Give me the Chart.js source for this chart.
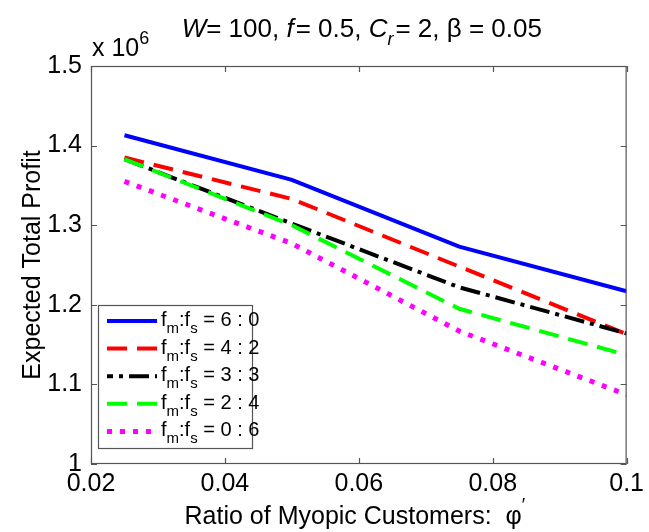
<!DOCTYPE html>
<html>
<head>
<meta charset="utf-8">
<script src="https://cdn.jsdelivr.net/npm/chart.js@4"></script>
<style>
  html, body { margin: 0; padding: 0; background: #fff; }
  #wrap { width: 649px; height: 532px; }
</style>
</head>
<body>
<div id="wrap"><canvas id="profitChart"></canvas></div>
<script>
// ratio of myopic customers (phi')
const phi = [0.025, 0.05, 0.075, 0.1];

// expected total profit, in units of 10^6
const profit60 = [1.413, 1.357, 1.273, 1.217];
const profit42 = [1.385, 1.333, 1.248, 1.163];
const profit33 = [1.383, 1.302, 1.222, 1.164];
const profit24 = [1.383, 1.300, 1.195, 1.137];
const profit06 = [1.355, 1.277, 1.167, 1.087];

// f_m : f_s split for each curve
const splitM = ['6', '4', '3', '2', '0'];
const splitS = ['0', '2', '3', '4', '6'];

const xTicks = [0.02, 0.04, 0.06, 0.08, 0.1];
const xTickLabels = ['0.02', '0.04', '0.06', '0.08', '0.1'];
const yTicks = [1, 1.1, 1.2, 1.3, 1.4, 1.5];
const yTickLabels = ['1', '1.1', '1.2', '1.3', '1.4', '1.5'];

const FONT = "'Liberation Sans', Arial, Helvetica, sans-serif";
const AXIS_COLOR = '#555555';

const lineStyle = (data, color, dash, width, order) => ({
  data: data.map((v, i) => ({ x: phi[i], y: v })),
  borderColor: color,
  backgroundColor: color,
  borderWidth: width,
  borderDash: dash,
  borderCapStyle: 'butt',
  borderJoinStyle: 'miter',
  pointRadius: 0,
  tension: 0,
  fill: false,
  order: order
});

const datasets = [
  lineStyle(profit60, '#0000ff', [], 4, 5),
  lineStyle(profit42, '#ff0000', [20, 10], 4, 4),
  lineStyle(profit33, '#000000', [20, 6, 4, 6], 4, 3),
  lineStyle(profit24, '#00ff00', [20, 10], 4, 2),
  lineStyle(profit06, '#ff00ff', [5, 8], 5, 1)
];

// draw a run of text pieces (italic / subscript / superscript) left to right
function drawRuns(ctx, runs, x, y, align) {
  const fontOf = r => (r.it ? 'italic ' : '') + (r.size || 24) + 'px ' + FONT;
  let total = 0;
  runs.forEach(r => { ctx.font = fontOf(r); total += ctx.measureText(r.t).width + (r.kern || 0); });
  let cx = align === 'center' ? x - total / 2 : x;
  ctx.textAlign = 'left';
  ctx.textBaseline = 'alphabetic';
  runs.forEach(r => {
    ctx.font = fontOf(r);
    ctx.fillText(r.t, cx, y + (r.dy || 0));
    cx += ctx.measureText(r.t).width + (r.kern || 0);
  });
}

const decorations = {
  id: 'decorations',
  afterDatasetsDraw(chart) {
    const { ctx, chartArea: a, scales: { x, y } } = chart;
    ctx.save();

    // axes box with inward tick marks
    ctx.strokeStyle = AXIS_COLOR;
    ctx.lineWidth = 1.2;
    ctx.strokeRect(a.left + 0.5, a.top + 0.5, a.right - a.left - 1, a.bottom - a.top - 1);
    const tl = 6;
    ctx.beginPath();
    xTicks.forEach(v => {
      const px = Math.round(x.getPixelForValue(v)) + 0.5;
      ctx.moveTo(px, a.bottom); ctx.lineTo(px, a.bottom - tl);
      ctx.moveTo(px, a.top); ctx.lineTo(px, a.top + tl);
    });
    yTicks.forEach(v => {
      const py = Math.round(y.getPixelForValue(v)) + 0.5;
      ctx.moveTo(a.left, py); ctx.lineTo(a.left + tl, py);
      ctx.moveTo(a.right, py); ctx.lineTo(a.right - tl, py);
    });
    ctx.stroke();

    // legend
    const lx = 98, ly = 305, lw = 154, lh = 143;
    ctx.fillStyle = '#fff';
    ctx.fillRect(lx, ly, lw, lh);
    ctx.strokeStyle = AXIS_COLOR;
    ctx.lineWidth = 1.2;
    ctx.strokeRect(lx + 0.5, ly + 0.5, lw, lh);
    chart.data.datasets.forEach((ds, i) => {
      const cy = ly + 16 + i * 27.6;
      ctx.strokeStyle = ds.borderColor;
      ctx.lineWidth = ds.borderWidth;
      ctx.lineCap = 'butt';
      ctx.setLineDash(ds.borderDash);
      ctx.lineDashOffset = i === 2 ? 14 : 0;
      ctx.beginPath();
      ctx.moveTo(107, cy);
      ctx.lineTo(157, cy);
      ctx.stroke();
      ctx.setLineDash([]);
      ctx.fillStyle = '#000';
      drawRuns(ctx, [
        { t: 'f', size: 20 },
        { t: 'm', size: 15, dy: 7 },
        { t: ':f', size: 20 },
        { t: 's', size: 15, dy: 7 },
        { t: ' = ' + splitM[i] + ' : ' + splitS[i], size: 20 }
      ], 161, cy + 5, 'left');
    });

    ctx.fillStyle = '#000';
    // title
    drawRuns(ctx, [
      { t: 'W', it: true, size: 26 },
      { t: '= 100, ', size: 26 },
      { t: 'f', it: true, size: 26, kern: 2 },
      { t: '= 0.5, ', size: 26 },
      { t: 'C', it: true, size: 26 },
      { t: 'r', it: true, size: 18, dy: 8, kern: 2 },
      { t: '= 2, \u03b2 = 0.05', size: 26 }
    ], (a.left + a.right) / 2 + 3, 37, 'center');

    // exponent label
    drawRuns(ctx, [
      { t: 'x 10', size: 25 },
      { t: '6', size: 18, dy: -12 }
    ], 92, 56, 'left');

    // x axis title
    drawRuns(ctx, [
      { t: 'Ratio of Myopic Customers:  \u03c6', size: 25 },
      { t: '\u2032', size: 18, dy: -13 }
    ], (a.left + a.right) / 2 - 4, 524, 'center');

    ctx.restore();
  }
};

new Chart(document.getElementById('profitChart'), {
  type: 'line',
  data: { datasets: datasets },
  options: {
    responsive: true,
    maintainAspectRatio: false,
    animation: false,
    layout: { padding: { top: 66, right: 17, left: 0, bottom: 0 } },
    plugins: {
      legend: { display: false },
      title: { display: false },
      tooltip: { enabled: false }
    },
    scales: {
      x: {
        type: 'linear',
        min: 0.02,
        max: 0.1,
        grid: { display: false, drawTicks: false },
        border: { display: false },
        afterBuildTicks: s => { s.ticks = xTicks.map(v => ({ value: v })); },
        afterFit: s => { s.height = 68; },
        ticks: {
          autoSkip: false,
          maxRotation: 0,
          padding: 5,
          color: '#000',
          font: { family: FONT, size: 25 },
          callback: (v, i) => xTickLabels[i]
        }
      },
      y: {
        min: 1,
        max: 1.5,
        grid: { display: false, drawTicks: false },
        border: { display: false },
        afterBuildTicks: s => { s.ticks = yTicks.map(v => ({ value: v })); },
        afterFit: s => { s.width = 91; },
        ticks: {
          autoSkip: false,
          padding: 9,
          color: '#000',
          font: { family: FONT, size: 25 },
          callback: (v, i) => yTickLabels[i]
        },
        title: {
          display: true,
          text: 'Expected Total Profit',
          color: '#000',
          font: { family: FONT, size: 25 },
          padding: { top: 18, bottom: 0 }
        }
      }
    }
  },
  plugins: [decorations]
});
</script>
</body>
</html>
